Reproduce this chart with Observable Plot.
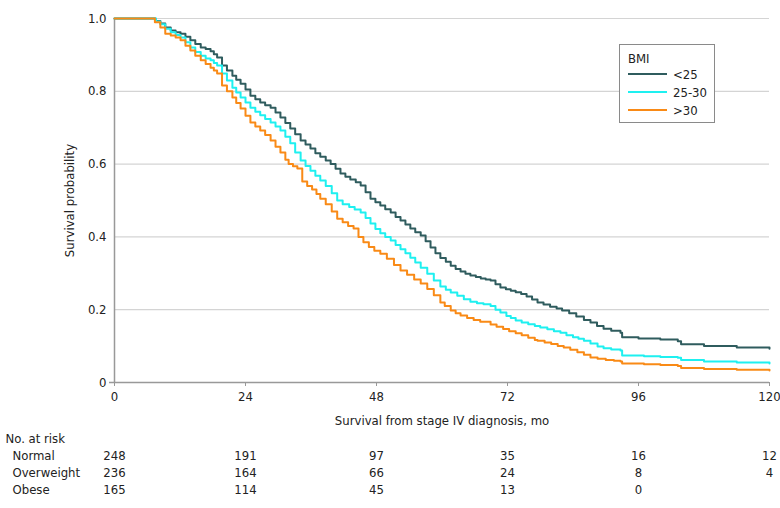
<!DOCTYPE html>
<html>
<head>
<meta charset="utf-8">
<script src="https://cdn.jsdelivr.net/npm/d3@7"></script>
<script src="https://cdn.jsdelivr.net/npm/@observablehq/plot@0.6"></script>
<style>
  html, body { margin: 0; padding: 0; background: #fff; }
  #wrap { position: relative; width: 780px; height: 508px; font-family: "Liberation Sans Narrow", "DejaVu Sans Condensed", "Roboto", sans-serif; font-stretch: condensed; }
  #wrap svg { display: block; }
  #legend { position: absolute; left: 619px; top: 44px; width: 94px; height: 77px; border: 1px solid #8a8a8a; background: #fff; font-size: 13px; color: #222; }
  #legend .title { position: absolute; left: 8px; top: 6px; }
  #legend .row { position: absolute; left: 8px; height: 16px; display: flex; align-items: center; }
  #legend .sw { width: 39px; height: 0; border-top: 2px solid; margin-right: 6px; }
</style>
</head>
<body>
<div id="wrap"><div id="legend"></div></div>
<script>
// ---- data ----
const bmiGroups = ["<25", "25-30", ">30"];
const bmiColors = ["#2f5c5e", "#1ef0f0", "#f98a16"];

const normalT = [0, 6.6, 7.5, 8.4, 9.3, 10.3, 11.2, 12.1, 13, 13.9, 14.8, 15.8, 16.7, 17.6, 18.2, 18.8, 19.7, 20.6, 21.6, 22.3, 23.1, 24, 24.9, 25.8, 26.7, 27.6, 28.6, 29.5, 30.4, 31.3, 32.2, 33.1, 34.1, 35, 35.9, 36.8, 37.7, 38.7, 39.6, 40.5, 41.4, 42.3, 43.2, 44.2, 45.1, 46, 46.9, 47.8, 48.7, 49.6, 50.6, 51.5, 52.4, 53.3, 54.2, 55.1, 56.1, 57, 57.9, 58.8, 59.7, 60.7, 61.6, 62.5, 63.4, 64.3, 65.2, 66.2, 67.1, 68, 68.9, 69.8, 70.7, 71.7, 72.6, 73.5, 74.5, 75.5, 76.5, 77.5, 78.6, 79.8, 81, 82, 83.3, 84.6, 86, 87.2, 88.4, 89.6, 91, 92.7, 93, 96, 100, 103.2, 103.8, 108, 114, 120];
const normalS = [1, 1, 0.993, 0.986, 0.975, 0.967, 0.962, 0.958, 0.95, 0.94, 0.93, 0.92, 0.916, 0.91, 0.902, 0.893, 0.871, 0.857, 0.843, 0.832, 0.821, 0.805, 0.788, 0.778, 0.769, 0.762, 0.755, 0.742, 0.728, 0.713, 0.698, 0.682, 0.665, 0.654, 0.643, 0.63, 0.62, 0.61, 0.6, 0.587, 0.574, 0.565, 0.558, 0.55, 0.541, 0.523, 0.505, 0.495, 0.486, 0.476, 0.467, 0.455, 0.445, 0.434, 0.423, 0.413, 0.404, 0.388, 0.371, 0.355, 0.342, 0.332, 0.321, 0.312, 0.305, 0.299, 0.294, 0.29, 0.286, 0.283, 0.28, 0.27, 0.261, 0.256, 0.252, 0.248, 0.243, 0.236, 0.228, 0.22, 0.214, 0.208, 0.203, 0.198, 0.19, 0.181, 0.172, 0.165, 0.155, 0.148, 0.142, 0.137, 0.124, 0.121, 0.118, 0.113, 0.105, 0.1, 0.096, 0.093];

const overT = [0, 6.8, 7.6, 8.4, 9.3, 10.3, 11.2, 12.1, 13, 13.9, 14.8, 15.8, 16.7, 17.6, 18.2, 18.8, 19.7, 20.6, 21.6, 22.3, 23.1, 24, 24.9, 25.8, 26.7, 27.6, 28.6, 29.5, 30.4, 31.3, 32.2, 33.1, 34.1, 35, 35.9, 36.8, 37.7, 38.7, 39.8, 40.8, 41.8, 43, 44, 45.1, 46, 46.9, 47.8, 48.7, 49.6, 50.6, 51.5, 52.4, 53.3, 54.2, 55.1, 56.1, 57.3, 58.5, 59.7, 60.7, 61.6, 62.8, 64, 65.2, 66.4, 67.6, 68.9, 69.8, 70.7, 71.8, 72.6, 73.5, 74.6, 75.8, 77, 78, 79.3, 80.5, 81.7, 82.8, 84, 85, 86, 87.2, 88.5, 89.6, 91, 92.7, 93, 97, 100, 103.2, 103.8, 108, 114, 120];
const overS = [1, 1, 0.992, 0.984, 0.972, 0.962, 0.955, 0.948, 0.935, 0.92, 0.908, 0.898, 0.89, 0.885, 0.878, 0.871, 0.849, 0.83, 0.81, 0.797, 0.783, 0.769, 0.755, 0.744, 0.734, 0.724, 0.714, 0.703, 0.692, 0.675, 0.657, 0.632, 0.61, 0.595, 0.582, 0.568, 0.555, 0.54, 0.52, 0.5, 0.49, 0.482, 0.475, 0.467, 0.452, 0.437, 0.422, 0.41, 0.4, 0.39, 0.378, 0.366, 0.355, 0.343, 0.33, 0.315, 0.299, 0.28, 0.264, 0.255, 0.247, 0.238, 0.229, 0.222, 0.218, 0.215, 0.21, 0.2, 0.192, 0.183, 0.177, 0.17, 0.165, 0.16, 0.155, 0.151, 0.146, 0.141, 0.137, 0.13, 0.124, 0.12, 0.115, 0.107, 0.099, 0.094, 0.091, 0.088, 0.074, 0.072, 0.07, 0.068, 0.062, 0.058, 0.055, 0.052];

const obeseT = [0, 6.3, 7.4, 8.4, 9.3, 10.3, 11.2, 12.1, 13, 13.9, 14.8, 15.8, 16.7, 17.6, 18.2, 18.8, 19.7, 20.6, 21.6, 22.3, 23.1, 24, 24.9, 25.8, 26.7, 27.6, 28.6, 29.5, 30.4, 31.3, 31.9, 32.7, 33.5, 34.4, 35.3, 36.2, 37, 37.7, 38.7, 39.8, 40.8, 41.8, 42.8, 43.8, 44.7, 45.6, 46.6, 47.6, 48.7, 49.9, 51.2, 52.4, 53.6, 54.9, 56.1, 57.3, 58.5, 59.7, 60.5, 61.6, 62.5, 63.4, 64.6, 65.8, 67, 68.9, 70, 71.2, 72.3, 73.5, 74.6, 75.8, 77, 77.5, 78.8, 80, 81.2, 82.3, 83.5, 84.8, 86, 87.2, 88.5, 90, 91.5, 92.7, 93, 97, 100, 103.2, 103.8, 108, 114, 120];
const obeseS = [1, 1, 0.99, 0.975, 0.958, 0.953, 0.948, 0.94, 0.925, 0.912, 0.898, 0.885, 0.875, 0.865, 0.857, 0.849, 0.816, 0.8, 0.783, 0.768, 0.753, 0.733, 0.714, 0.703, 0.692, 0.68, 0.665, 0.648, 0.632, 0.612, 0.6, 0.594, 0.588, 0.552, 0.54, 0.53, 0.518, 0.505, 0.49, 0.47, 0.45, 0.44, 0.43, 0.423, 0.4, 0.385, 0.372, 0.362, 0.354, 0.34, 0.323, 0.308, 0.296, 0.283, 0.272, 0.257, 0.24, 0.22, 0.21, 0.198, 0.19, 0.184, 0.177, 0.172, 0.167, 0.159, 0.153, 0.147, 0.141, 0.135, 0.13, 0.123, 0.117, 0.115, 0.11, 0.106, 0.1, 0.096, 0.09, 0.083, 0.076, 0.069, 0.065, 0.062, 0.06, 0.058, 0.052, 0.05, 0.048, 0.045, 0.04, 0.037, 0.035, 0.033];

const xTicks = [0, 24, 48, 72, 96, 120];
const yTicks = [0, 0.2, 0.4, 0.6, 0.8, 1.0];

const riskTitle = "No. at risk";
const riskGroups = ["Normal", "Overweight", "Obese"];
const riskNormal = [248, 191, 97, 35, 16, 12];
const riskOverweight = [236, 164, 66, 24, 8, 4];
const riskObese = [165, 114, 45, 13, 0, null];

// ---- build tables ----
const curves = [];
[[normalT, normalS], [overT, overS], [obeseT, obeseS]].forEach(([T, S], i) => {
  T.forEach((t, j) => curves.push({group: bmiGroups[i], t, s: S[j]}));
});
const risk = [];
[riskNormal, riskOverweight, riskObese].forEach((arr, i) => {
  arr.forEach((n, j) => { if (n !== null) risk.push({group: riskGroups[i], t: xTicks[j], n}); });
});

const font = {fontFamily: '"Liberation Sans Narrow", "DejaVu Sans Condensed", Roboto, sans-serif', fontSize: "13px", fontStretch: "condensed", color: "#222", background: "#fff"};

const main = Plot.plot({
  width: 780, height: 430,
  marginTop: 18, marginLeft: 114, marginRight: 11, marginBottom: 48,
  style: font,
  x: {domain: [0, 120]},
  y: {domain: [0, 1]},
  color: {domain: bmiGroups, range: bmiColors},
  marks: [
    Plot.gridY(yTicks.filter(d => d > 0), {stroke: "#d4d4d4", strokeOpacity: 1, strokeWidth: 1.2}),
    Plot.axisY(yTicks, {tickSize: 0, tickPadding: 8, tickFormat: d => d === 0 ? "0" : d.toFixed(1),
      label: "Survival probability", labelAnchor: "center", labelOffset: 50, labelArrow: "none"}),
    Plot.axisX(xTicks, {tickSize: 4, tickPadding: 5, stroke: "#999",
      label: "Survival from stage IV diagnosis, mo", labelAnchor: "center", labelOffset: 42, labelArrow: "none"}),
    Plot.ruleX([0], {stroke: "#999", strokeWidth: 1.5}),
    Plot.ruleY([0], {stroke: "#999", strokeWidth: 1.5, insetLeft: -5}),
    Plot.line(curves, {x: "t", y: "s", z: "group", stroke: "group", curve: "step-after", strokeWidth: 2})
  ]
});

const table = Plot.plot({
  width: 780, height: 78,
  marginTop: 7, marginBottom: 18, marginLeft: 114, marginRight: 11,
  style: font,
  x: {domain: [0, 120], axis: null},
  y: {type: "point", domain: [riskTitle, ...riskGroups], padding: 0, axis: null},
  marks: [
    Plot.text([riskTitle], {y: d => d, text: d => d, frameAnchor: "left", textAnchor: "start", dx: -109, fill: "#222"}),
    Plot.text(riskGroups, {y: d => d, text: d => d, frameAnchor: "left", textAnchor: "start", dx: -102, fill: "#222"}),
    Plot.text(risk, {x: "t", y: "group", text: "n", fill: "#222"})
  ]
});

const wrap = document.getElementById("wrap");
wrap.insertBefore(main, wrap.firstChild);
wrap.insertBefore(table, document.getElementById("legend"));

// legend (HTML)
const legend = document.getElementById("legend");
const title = document.createElement("div");
title.className = "title"; title.textContent = "BMI";
legend.appendChild(title);
bmiGroups.forEach((g, i) => {
  const row = document.createElement("div");
  row.className = "row";
  row.style.top = (21 + i * 18) + "px";
  const sw = document.createElement("span");
  sw.className = "sw"; sw.style.borderTopColor = bmiColors[i];
  const lab = document.createElement("span");
  lab.textContent = g;
  row.appendChild(sw); row.appendChild(lab);
  legend.appendChild(row);
});
</script>
</body>
</html>
